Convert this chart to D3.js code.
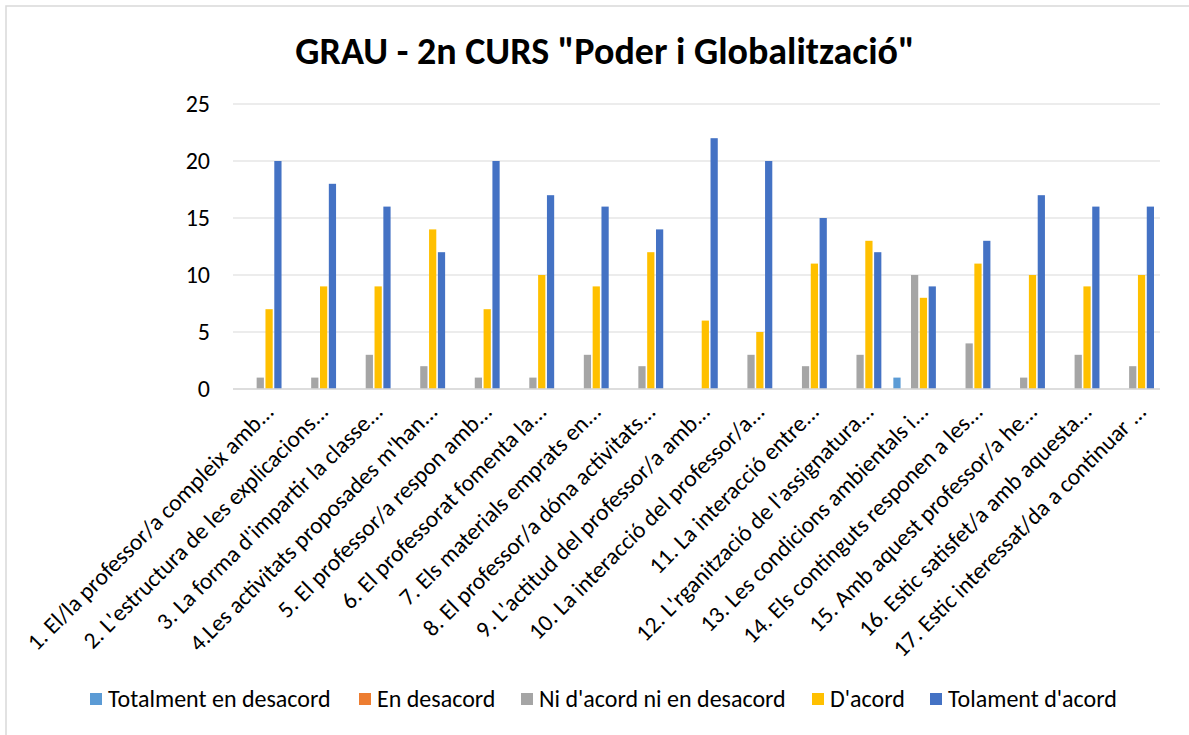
<!DOCTYPE html>
<html>
<head>
<meta charset="utf-8">
<script src="https://cdn.jsdelivr.net/npm/d3@7"></script>
<style>
  body { margin: 0; background: #fff; }
  text { font-family: Carlito, Calibri, "Open Sans", sans-serif; }
</style>
</head>
<body>
<script>
// ---------------- data ----------------
let categories = [
  "1. El/la professor/a compleix amb...",
  "2. L'estructura de les explicacions...",
  "3. La forma d'impartir la classe...",
  "4.Les activitats proposades m'han...",
  "5. El professor/a respon amb...",
  "6. El professorat fomenta la...",
  "7. Els materials emprats en...",
  "8. El professor/a dóna activitats...",
  "9. L'actitud del professor/a amb...",
  "10. La interacció del professor/a...",
  "11. La interacció entre...",
  "12. L'rganització de l'assignatura...",
  "13. Les condicions ambientals i...",
  "14. Els continguts responen a les...",
  "15. Amb aquest professor/a he...",
  "16. Estic satisfet/a amb aquesta...",
  "17. Estic interessat/da a continuar ..."
]

let seriesNames = ["Totalment en desacord", "En desacord", "Ni d'acord ni en desacord", "D'acord", "Tolament d'acord"]

let totalDesacord = [0, 0, 0, 0, 0, 0, 0, 0, 0, 0, 0, 0, 1, 0, 0, 0, 0]
let desacord      = [0, 0, 0, 0, 0, 0, 0, 0, 0, 0, 0, 0, 0, 0, 0, 0, 0]
let niNi          = [1, 1, 3, 2, 1, 1, 3, 2, 0, 3, 2, 3, 10, 4, 1, 3, 2]
let acord         = [7, 9, 9, 14, 7, 10, 9, 12, 6, 5, 11, 13, 8, 11, 10, 9, 10]
let totalAcord    = [20, 18, 16, 12, 20, 17, 16, 14, 22, 20, 15, 12, 9, 13, 17, 16, 16]

let yTicks = [0, 5, 10, 15, 20, 25]

let colors = ["#5B9BD5", "#ED7D31", "#A5A5A5", "#FFC000", "#4472C4"]

let seriesValues = [totalDesacord, desacord, niNi, acord, totalAcord]

// ---------------- layout ----------------
let w = 1189
let h = 735

let svg = d3.select("body")
    .append("svg")
    .attr("width", w)
    .attr("height", h)

// chart border
svg.append("rect")
    .attr("x", 6).attr("y", 6)
    .attr("width", 1200).attr("height", 760)
    .attr("fill", "#fff")
    .attr("stroke", "#d9d9d9")
    .attr("stroke-width", 1.5)

let x0 = d3.scaleBand()
    .domain(categories)
    .range([233, 1160])

let x1 = d3.scaleBand()
    .domain(seriesNames)
    .range([6, x0.bandwidth() - 6])
    .paddingInner(0.18)

let y = d3.scaleLinear()
    .domain([0, 25])
    .range([389, 104])

// gridlines
svg.append("g")
  .selectAll("line")
  .data(yTicks)
  .enter()
  .append("line")
    .attr("x1", 233).attr("x2", 1160)
    .attr("y1", d => y(d)).attr("y2", d => y(d))
    .attr("stroke", "#d9d9d9")
    .attr("stroke-width", 1)

// y axis labels
let yAxis = d3.axisLeft(y).tickValues(yTicks).tickSize(0).tickPadding(0)
let yg = svg.append("g")
    .attr("transform", "translate(210,0)")
    .call(yAxis)
yg.select(".domain").remove()
yg.selectAll("text")
    .attr("font-size", "24px")
    .attr("fill", "#000")
    .attr("font-family", "Carlito, Calibri, 'Open Sans', sans-serif")

// bars
let groups = svg.append("g")
  .selectAll("g")
  .data(categories)
  .enter()
  .append("g")
    .attr("transform", d => "translate(" + x0(d) + ",0)")

groups.selectAll("rect")
  .data((d, i) => seriesNames.map((s, j) => ({ s: s, v: seriesValues[j][i], c: colors[j] })))
  .enter()
  .filter(d => d.v > 0)
  .append("rect")
    .attr("x", d => x1(d.s))
    .attr("width", x1.bandwidth())
    .attr("y", d => y(d.v))
    .attr("height", d => y(0) - y(d.v))
    .attr("fill", d => d.c)

// x axis line
svg.append("line")
    .attr("x1", 233).attr("x2", 1160)
    .attr("y1", y(0)).attr("y2", y(0))
    .attr("stroke", "#d9d9d9")
    .attr("stroke-width", 1.5)

// category labels (rotated)
svg.append("g")
  .selectAll("text")
  .data(categories)
  .enter()
  .append("text")
    .text(d => d)
    .attr("text-anchor", "end")
    .attr("font-size", "23.5px")
    .attr("fill", "#000")
    .attr("transform", d => "translate(" + (x0(d) + x0.bandwidth() / 2 + 15) + ",413) rotate(-45)")

// title
svg.append("text")
    .text('GRAU - 2n CURS "Poder i Globalització"')
    .attr("x", 605)
    .attr("y", 64)
    .attr("text-anchor", "middle")
    .attr("font-size", "38px")
    .attr("font-weight", "bold")
    .attr("fill", "#000")

// legend
let legendX = [90, 359, 521, 812, 930]
let legend = svg.append("g")
  .selectAll("g")
  .data(seriesNames)
  .enter()
  .append("g")
    .attr("transform", (d, i) => "translate(" + legendX[i] + ",693)")

legend.append("rect")
    .attr("width", 12).attr("height", 12)
    .attr("fill", (d, i) => colors[i])

legend.append("text")
    .text(d => d)
    .attr("x", 18)
    .attr("y", 14)
    .attr("font-size", "24px")
    .attr("fill", "#000")
</script>
</body>
</html>
